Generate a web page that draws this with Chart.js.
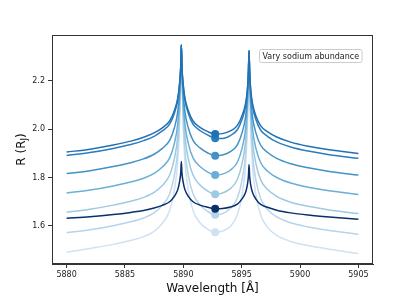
<!DOCTYPE html>
<html>
<head>
<meta charset="utf-8">
<script src="https://cdn.jsdelivr.net/npm/chart.js@4.4.0/dist/chart.umd.min.js"></script>
<style>
  html, body { margin: 0; padding: 0; background: #fff; }
  #chart { display: block; }
</style>
</head>
<body>
<canvas id="chart" width="415" height="297"></canvas>
<script>
// wavelength grid (Angstrom), denser near the two Na D peaks
const wavelength = [5880, 5882, 5884, 5885.5, 5886.6, 5887.5, 5888.2, 5888.83, 5889.23, 5889.53,
  5889.68, 5889.78, 5889.83, 5889.88, 5889.98, 5890.13, 5890.43, 5890.83, 5891.43, 5892.1,
  5892.73, 5893.36, 5894.03, 5894.63, 5895.03, 5895.33, 5895.48, 5895.58, 5895.63, 5895.68,
  5895.78, 5895.93, 5896.23, 5896.63, 5897.2, 5898, 5899.2, 5900.7, 5902.5, 5905];

// transit radius (R_J) for each model
const r1 = [1.905, 1.917, 1.934, 1.950, 1.966, 1.984, 2.005, 2.033, 2.075, 2.130,
  2.190, 2.260, 2.347, 2.260, 2.190, 2.130, 2.075, 2.033, 2.007, 1.989,
  1.979, 1.981, 1.992, 2.015, 2.055, 2.105, 2.160, 2.235, 2.323, 2.235,
  2.160, 2.105, 2.053, 2.013, 1.989, 1.967, 1.946, 1.929, 1.914, 1.899];
const r2 = [1.891, 1.903, 1.920, 1.936, 1.952, 1.970, 1.992, 2.020, 2.064, 2.121,
  2.184, 2.259, 2.347, 2.259, 2.184, 2.121, 2.064, 2.020, 1.994, 1.975,
  1.962, 1.961, 1.973, 1.997, 2.039, 2.092, 2.152, 2.233, 2.323, 2.233,
  2.152, 2.092, 2.037, 1.995, 1.970, 1.947, 1.926, 1.909, 1.894, 1.879];
const r3 = [1.816, 1.828, 1.845, 1.861, 1.877, 1.896, 1.920, 1.953, 2.004, 2.074,
  2.154, 2.253, 2.347, 2.253, 2.154, 2.074, 2.004, 1.953, 1.922, 1.901,
  1.890, 1.893, 1.907, 1.935, 1.984, 2.049, 2.124, 2.228, 2.323, 2.228,
  2.124, 2.049, 1.982, 1.933, 1.904, 1.879, 1.857, 1.840, 1.825, 1.810];
const r4 = [1.736, 1.748, 1.765, 1.781, 1.797, 1.817, 1.843, 1.881, 1.940, 2.024,
  2.122, 2.247, 2.347, 2.247, 2.122, 2.024, 1.940, 1.881, 1.845, 1.822,
  1.810, 1.814, 1.830, 1.863, 1.920, 1.999, 2.092, 2.222, 2.323, 2.222,
  2.092, 1.999, 1.918, 1.861, 1.827, 1.800, 1.777, 1.760, 1.745, 1.730];
const r5 = [1.657, 1.669, 1.686, 1.702, 1.718, 1.739, 1.767, 1.810, 1.877, 1.974,
  2.091, 2.240, 2.347, 2.240, 2.091, 1.974, 1.877, 1.810, 1.769, 1.744,
  1.731, 1.736, 1.754, 1.792, 1.857, 1.949, 2.061, 2.215, 2.323, 2.215,
  2.061, 1.949, 1.855, 1.790, 1.751, 1.722, 1.698, 1.681, 1.666, 1.651];
const r6 = [1.572, 1.584, 1.601, 1.617, 1.633, 1.654, 1.685, 1.733, 1.809, 1.920,
  2.057, 2.233, 2.347, 2.233, 2.057, 1.920, 1.809, 1.733, 1.687, 1.659,
  1.646, 1.651, 1.672, 1.715, 1.789, 1.895, 2.027, 2.208, 2.323, 2.208,
  2.027, 1.895, 1.787, 1.713, 1.669, 1.637, 1.613, 1.596, 1.581, 1.566];
const r7 = [1.492, 1.507, 1.524, 1.540, 1.556, 1.578, 1.611, 1.664, 1.747, 1.872,
  2.026, 2.227, 2.347, 2.227, 2.026, 1.872, 1.747, 1.664, 1.613, 1.586,
  1.574, 1.579, 1.598, 1.646, 1.727, 1.847, 1.996, 2.202, 2.323, 2.202,
  1.996, 1.847, 1.725, 1.644, 1.595, 1.561, 1.536, 1.519, 1.504, 1.486];
const rRef = [1.632, 1.638, 1.647, 1.656, 1.664, 1.674, 1.685, 1.700, 1.722, 1.751,
  1.783, 1.820, 1.866, 1.820, 1.783, 1.751, 1.722, 1.700, 1.686, 1.677,
  1.671, 1.672, 1.678, 1.690, 1.712, 1.738, 1.767, 1.807, 1.854, 1.807,
  1.767, 1.738, 1.710, 1.689, 1.677, 1.665, 1.654, 1.645, 1.637, 1.628];

// point half way between the two lines, marked with a dot on every curve
const dotWavelength = 5892.73;
const dotIndex = wavelength.indexOf(dotWavelength);

const xTicks = [5880, 5885, 5890, 5895, 5900, 5905];
const yTicks = [1.6, 1.8, 2.0, 2.2];

const series = [
  { r: r1, color: '#2171b5' },
  { r: r2, color: '#2d7dbb' },
  { r: r3, color: '#4292c6' },
  { r: r4, color: '#6baed6' },
  { r: r5, color: '#9ecae1' },
  { r: r6, color: '#b7d4ea' },
  { r: r7, color: '#d0e1f2' },
  { r: rRef, color: '#08306b' }
];

function toPoints(r) {
  return wavelength.map((w, i) => ({ x: w, y: r[i] }));
}

// dots first (index 0 draws on top in chart.js), then lines
const dotOrder = [7, 0, 1, 2, 3, 4, 5, 6];
const datasets = [];
dotOrder.forEach(k => {
  datasets.push({
    type: 'scatter',
    data: [{ x: dotWavelength, y: series[k].r[dotIndex] }],
    backgroundColor: series[k].color,
    borderColor: series[k].color,
    pointRadius: 4,
    borderWidth: 0
  });
});
dotOrder.forEach(k => {
  datasets.push({
    type: 'line',
    data: toPoints(series[k].r),
    borderColor: series[k].color,
    borderWidth: 1.5,
    pointRadius: 0,
    fill: false,
    cubicInterpolationMode: 'monotone'
  });
});

const frame = {
  id: 'frame',
  afterDraw(chart) {
    const ctx = chart.ctx;
    const a = chart.chartArea;
    ctx.save();
    ctx.strokeStyle = '#333';
    ctx.lineWidth = 1;
    ctx.strokeRect(a.left + 0.5, a.top + 0.5, a.right - a.left - 1, a.bottom - a.top - 1);

    // legend-like label
    ctx.font = '8px "DejaVu Sans"';
    const label = 'Vary sodium abundance';
    const tw = ctx.measureText(label).width;
    const bx = 259.5, by = 49.5, bw = tw + 6, bh = 13;
    ctx.beginPath();
    ctx.roundRect(bx, by, bw, bh, 2);
    ctx.fillStyle = 'rgba(255,255,255,0.85)';
    ctx.fill();
    ctx.strokeStyle = '#cccccc';
    ctx.stroke();
    ctx.fillStyle = '#222';
    ctx.textBaseline = 'middle';
    ctx.fillText(label, bx + 3, by + bh / 2 + 0.5);

    // x title
    ctx.font = '12px "DejaVu Sans"';
    ctx.textAlign = 'center';
    ctx.textBaseline = 'middle';
    ctx.fillStyle = '#111';
    ctx.fillText('Wavelength [Å]', (a.left + a.right) / 2, 289);

    // y title with subscript J
    ctx.translate(22, (a.top + a.bottom) / 2);
    ctx.rotate(-Math.PI / 2);
    const big = '12px "DejaVu Sans"', small = '8.5px "DejaVu Sans"';
    ctx.font = big;
    const w1 = ctx.measureText('R (R').width;
    const w3 = ctx.measureText(')').width;
    ctx.font = small;
    const w2 = ctx.measureText('J').width;
    let x0 = -(w1 + w2 + w3) / 2;
    ctx.textAlign = 'left';
    ctx.font = big;
    ctx.fillText('R (R', x0, 0);
    ctx.font = small;
    ctx.fillText('J', x0 + w1, 3);
    ctx.font = big;
    ctx.fillText(')', x0 + w1 + w2, 0);
    ctx.restore();
  }
};

new Chart(document.getElementById('chart'), {
  type: 'line',
  data: { datasets: datasets },
  options: {
    responsive: false,
    animation: false,
    devicePixelRatio: 1,
    layout: { padding: { top: 35, right: 42, left: 0, bottom: 0 } },
    plugins: { legend: { display: false }, tooltip: { enabled: false } },
    scales: {
      x: {
        type: 'linear',
        min: 5878.75,
        max: 5906.25,
        afterFit: s => { s.height = 33; },
        afterBuildTicks: s => { s.ticks = xTicks.map(v => ({ value: v })); },
        grid: { display: true, drawOnChartArea: false, drawTicks: true, tickLength: 4, color: '#333' },
        border: { display: true, color: '#333' },
        ticks: {
          maxRotation: 0,
          padding: 2,
          color: '#222',
          font: { family: 'DejaVu Sans', size: 8 },
          callback: v => String(v)
        }
      },
      y: {
        type: 'linear',
        min: 1.443,
        max: 2.388,
        afterFit: s => { s.width = 52; },
        afterBuildTicks: s => { s.ticks = yTicks.map(v => ({ value: v })); },
        grid: { display: true, drawOnChartArea: false, drawTicks: true, tickLength: 4, color: '#333' },
        border: { display: true, color: '#333' },
        ticks: {
          padding: 3,
          color: '#222',
          font: { family: 'DejaVu Sans', size: 8 },
          callback: v => v.toFixed(1)
        }
      }
    }
  },
  plugins: [frame]
});
</script>
</body>
</html>
